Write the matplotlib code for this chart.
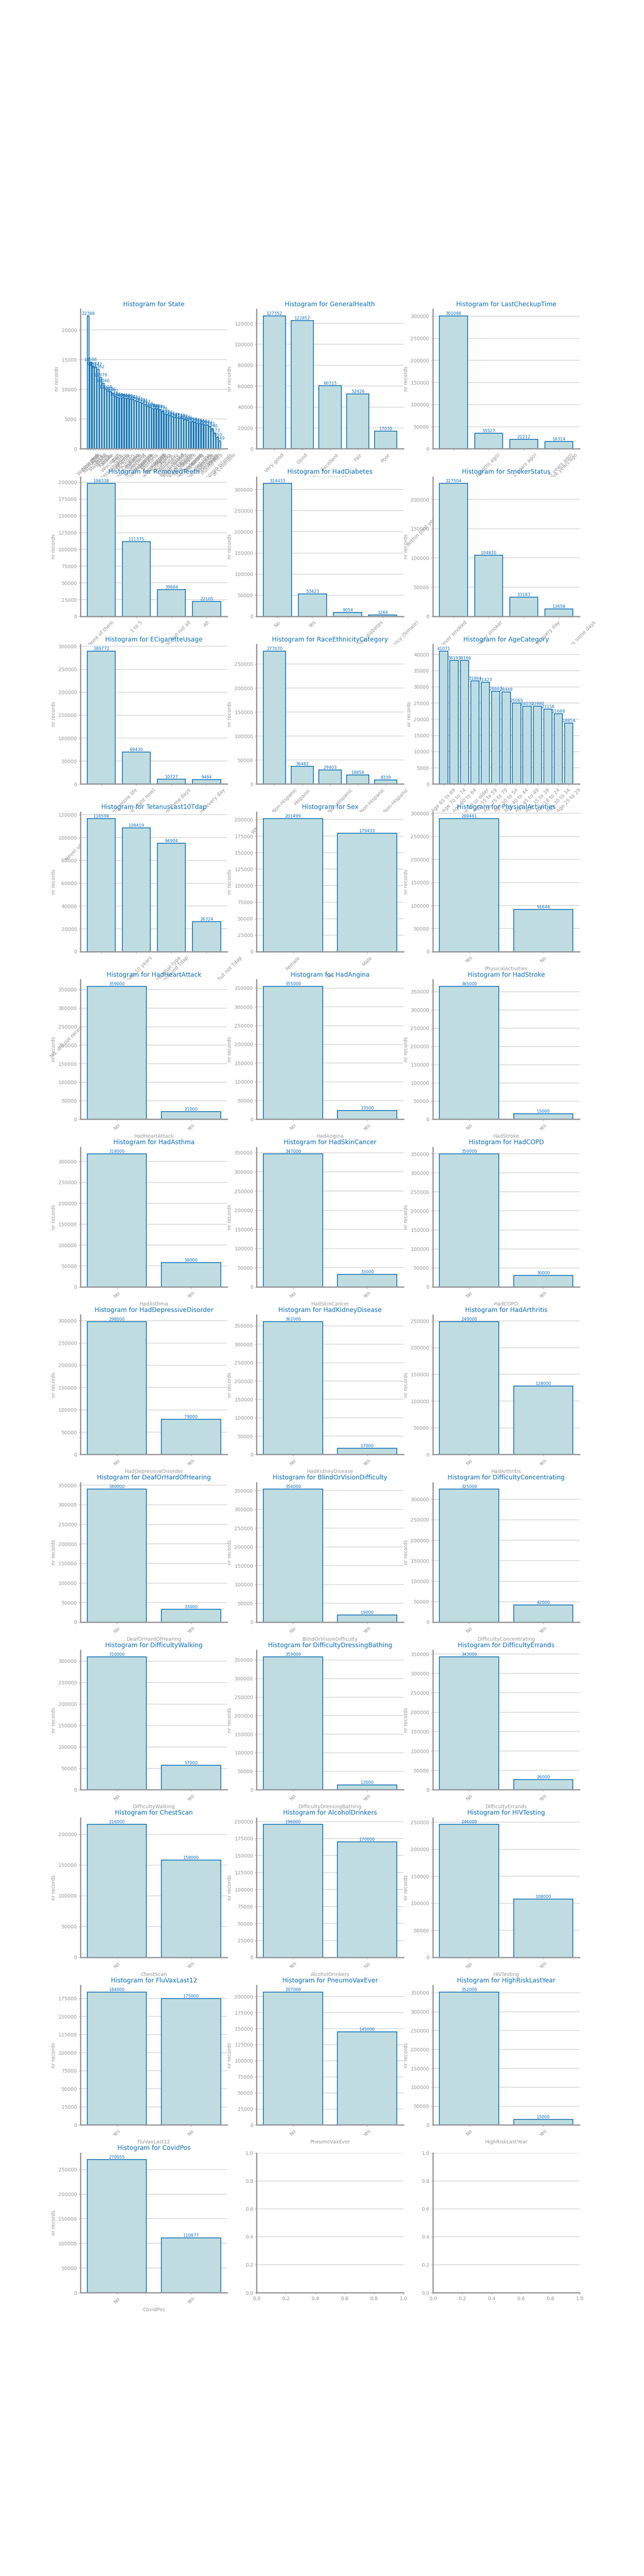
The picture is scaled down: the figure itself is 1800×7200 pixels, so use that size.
import matplotlib
matplotlib.use('Agg')
import matplotlib.pyplot as plt

# ---------------- data ----------------
state_labels = ['Washington', 'New York', 'Minnesota', 'Ohio', 'Maryland', 'Texas', 'Florida', 'Kansas',
                'Maine', 'Wisconsin', 'Massachusetts', 'Utah', 'Iowa', 'California', 'Arizona', 'Michigan',
                'South Carolina', 'Colorado', 'Indiana', 'Connecticut', 'Vermont', 'South Dakota', 'Nebraska',
                'Georgia', 'Missouri', 'Montana', 'New Hampshire', 'New Jersey', 'Virginia', 'Hawaii',
                'Oklahoma', 'Idaho', 'Kentucky', 'Louisiana', 'Rhode Island', 'West Virginia', 'Alaska',
                'North Dakota', 'Arkansas', 'New Mexico', 'Oregon', 'Pennsylvania', 'Tennessee', 'Wyoming',
                'Illinois', 'North Carolina', 'Alabama', 'Nevada', 'Mississippi', 'Delaware', 'Puerto Rico',
                'Guam', 'District of Columbia', 'Virgin Islands']
state_counts = [22388, 14586, 13887, 13747, 13362, 11979, 11046, 10014, 9726, 9626, 9292, 8786, 8660, 8600,
                8585, 8540, 8480, 8327, 8263, 8097, 7961, 7820, 7701, 7467, 7160, 6979, 6760, 6749, 6719,
                6579, 6376, 5891, 5726, 5561, 5412, 5287, 5211, 5149, 5102, 4874, 4805, 4545, 4528, 4394,
                4316, 4230, 4166, 4056, 3974, 3743, 3390, 2673, 1950, 1349]

genhealth_labels = ['Very good', 'Good', 'Excellent', 'Fair', 'Poor']
genhealth_counts = [127352, 122852, 60315, 52426, 17030]

checkup_labels = ['Within past year (anytime less than 12 months ago)',
                  'Within past 2 years (1 year but less than 2 years ago)',
                  'Within past 5 years (2 years but less than 5 years ago)',
                  '5 or more years ago']
checkup_counts = [301086, 35527, 21212, 16314]

teeth_labels = ['None of them', '1 to 5', '6 or more, but not all', 'All']
teeth_counts = [198338, 111375, 39884, 22105]

diabetes_labels = ['No', 'Yes', 'No, pre-diabetes or borderline diabetes',
                   'Yes, but only during pregnancy (female)']
diabetes_counts = [314433, 53423, 9054, 3268]

smoker_labels = ['Never smoked', 'Former smoker', 'Current smoker - now smokes every day',
                 'Current smoker - now smokes some days']
smoker_counts = [227504, 104810, 33183, 12658]

ecig_labels = ['Never used e-cigarettes in my entire life', 'Not at all (right now)',
               'Use them some days', 'Use them every day']
ecig_counts = [289772, 69430, 10727, 9484]

race_labels = ['White only, Non-Hispanic', 'Hispanic', 'Black only, Non-Hispanic',
               'Other race only, Non-Hispanic', 'Multiracial, Non-Hispanic']
race_counts = [277070, 36482, 29403, 18858, 8339]

age_labels = ['Age 65 to 69', 'Age 70 to 74', 'Age 60 to 64', 'Age 80 or older', 'Age 55 to 59',
              'Age 75 to 79', 'Age 50 to 54', 'Age 40 to 44', 'Age 45 to 49', 'Age 35 to 39',
              'Age 18 to 24', 'Age 30 to 34', 'Age 25 to 29']
age_counts = [41071, 38193, 38166, 31864, 31423, 28663, 28448, 25065, 24030, 23980, 23156, 21668, 18854]

tetanus_labels = ['No, did not receive any tetanus shot in the past 10 years',
                  'Yes, received tetanus shot, but not sure what type',
                  'Yes, received Tdap', 'Yes, received tetanus shot but not Tdap']
tetanus_counts = [116598, 108419, 94904, 26324]

sex_labels = ['Female', 'Male']
sex_counts = [201499, 179433]

phys_labels = ['Yes', 'No']
phys_counts = [288481, 91646]

no_yes = ['No', 'Yes']
yes_no = ['Yes', 'No']
heartattack_counts = [359000, 21000]
angina_counts = [355000, 23500]
stroke_counts = [365000, 15000]
asthma_counts = [318000, 58000]
skincancer_counts = [347000, 33000]
copd_counts = [350000, 30000]
depressive_counts = [298000, 79000]
kidney_counts = [362000, 17000]
arthritis_counts = [249000, 128000]
deaf_counts = [340000, 33000]
blind_counts = [354000, 19000]
concentrating_counts = [325000, 42000]
walking_counts = [310000, 57000]
dressing_counts = [359000, 13000]
errands_counts = [343000, 26000]
chestscan_counts = [216000, 158000]
alcohol_counts = [196000, 170000]
hiv_counts = [246000, 108000]
fluvax_counts = [184000, 175000]
pneumo_counts = [207000, 145000]
highrisk_counts = [352000, 15000]
covid_counts = [270055, 110877]

charts = [
    ('State', state_labels, state_counts),
    ('GeneralHealth', genhealth_labels, genhealth_counts),
    ('LastCheckupTime', checkup_labels, checkup_counts),
    ('RemovedTeeth', teeth_labels, teeth_counts),
    ('HadDiabetes', diabetes_labels, diabetes_counts),
    ('SmokerStatus', smoker_labels, smoker_counts),
    ('ECigaretteUsage', ecig_labels, ecig_counts),
    ('RaceEthnicityCategory', race_labels, race_counts),
    ('AgeCategory', age_labels, age_counts),
    ('TetanusLast10Tdap', tetanus_labels, tetanus_counts),
    ('Sex', sex_labels, sex_counts),
    ('PhysicalActivities', phys_labels, phys_counts),
    ('HadHeartAttack', no_yes, heartattack_counts),
    ('HadAngina', no_yes, angina_counts),
    ('HadStroke', no_yes, stroke_counts),
    ('HadAsthma', no_yes, asthma_counts),
    ('HadSkinCancer', no_yes, skincancer_counts),
    ('HadCOPD', no_yes, copd_counts),
    ('HadDepressiveDisorder', no_yes, depressive_counts),
    ('HadKidneyDisease', no_yes, kidney_counts),
    ('HadArthritis', no_yes, arthritis_counts),
    ('DeafOrHardOfHearing', no_yes, deaf_counts),
    ('BlindOrVisionDifficulty', no_yes, blind_counts),
    ('DifficultyConcentrating', no_yes, concentrating_counts),
    ('DifficultyWalking', no_yes, walking_counts),
    ('DifficultyDressingBathing', no_yes, dressing_counts),
    ('DifficultyErrands', no_yes, errands_counts),
    ('ChestScan', no_yes, chestscan_counts),
    ('AlcoholDrinkers', yes_no, alcohol_counts),
    ('HIVTesting', no_yes, hiv_counts),
    ('FluVaxLast12', yes_no, fluvax_counts),
    ('PneumoVaxEver', no_yes, pneumo_counts),
    ('HighRiskLastYear', no_yes, highrisk_counts),
    ('CovidPos', no_yes, covid_counts),
]

# ---------------- style ----------------
BLUE = '#1070b8'
FILL = '#bfdde0'
GRAY = '#939397'
LIGHT = '#9a9a9a'

plt.rcParams.update({
    'font.family': ['DejaVu Sans'],
    'axes.spines.top': False,
    'axes.spines.right': False,
    'axes.edgecolor': GRAY,
    'axes.linewidth': 2.4,
    'axes.grid': True,
    'axes.grid.axis': 'y',
    'axes.axisbelow': True,
    'grid.color': '#d2d2d2',
    'grid.linewidth': 1.3,
    'xtick.color': GRAY,
    'ytick.color': GRAY,
    'xtick.labelcolor': LIGHT,
    'ytick.labelcolor': LIGHT,
    'xtick.labelsize': 10,
    'ytick.labelsize': 10,
    'axes.titlecolor': BLUE,
    'axes.titlesize': 12.5,
    'axes.labelcolor': LIGHT,
    'axes.labelsize': 10,
})

fig, axes = plt.subplots(12, 3, figsize=(18, 72), dpi=100)
flat = axes.flatten()

for ax, (name, labels, counts) in zip(flat, charts):
    x = list(range(len(labels)))
    ax.bar(x, counts, width=0.8, color=FILL, edgecolor=BLUE, linewidth=1.6)
    for xi, c in zip(x, counts):
        ax.text(xi, c, str(c), ha='center', va='bottom', fontsize=8.4, color=BLUE)
    ax.set_xticks(x)
    ax.set_xticklabels(labels, rotation=45)
    ax.set_title('Histogram for ' + name)
    ax.set_xlabel(name)
    ax.set_ylabel('nr records')

fig.savefig('out.png', dpi=100)
